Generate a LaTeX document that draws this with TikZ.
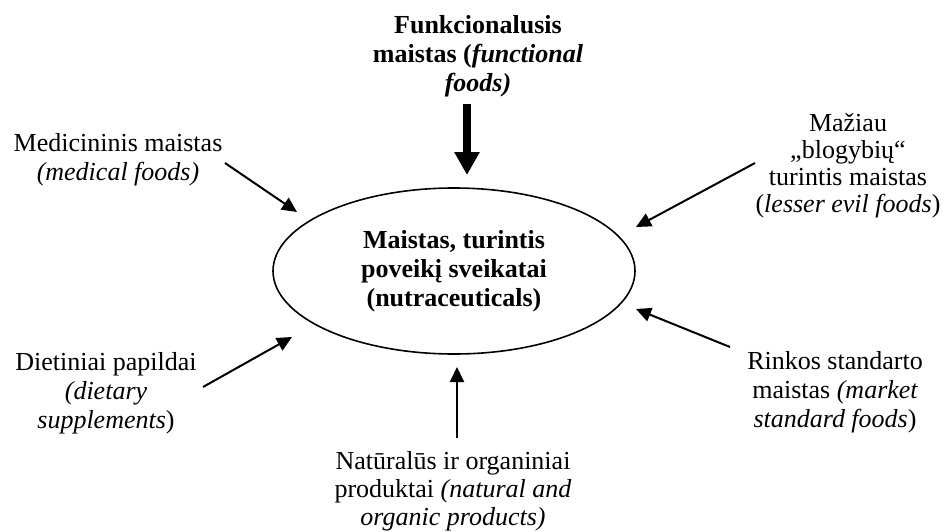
\documentclass[tikz,border=0pt]{standalone}
\usepackage{fontspec}
\setmainfont{Liberation Serif}
\usetikzlibrary{arrows.meta,shapes.geometric}
\begin{document}
\begin{tikzpicture}[x=1pt,y=-1pt,
  lbl/.style={align=center,inner sep=0pt,anchor=north,font=\fontsize{26}{29}\selectfont},
  conn/.style={line width=2pt,-{Triangle[length=15pt,width=14pt]}},
  bigconn/.style={line width=8pt,-{Triangle[length=23pt,width=24pt]}}]
\useasboundingbox (0,0) rectangle (948,531);
\fill[white] (0,0) rectangle (948,531);
% central ellipse
\node[draw,ellipse,line width=1.6pt,minimum width=362pt,minimum height=166pt,inner sep=0pt,
  align=center,font=\fontsize{26}{29}\selectfont\bfseries] (main) at (454,271)
  {Maistas, turintis\\poveikį sveikatai\\(nutraceuticals)};
% labels
\node[lbl] (func) at (478,15) {\bfseries Funkcionalusis\\\bfseries maistas ({\itshape functional}\\{\bfseries\itshape foods)}};
\node[lbl] (med) at (118,133) {Medicininis maistas\\{\itshape (medical foods)}};
\node[lbl,font=\fontsize{26}{27}\selectfont] (maz) at (848,113) {Mažiau\\„blogybių“\\turintis maistas\\({\itshape lesser evil foods})};
\node[lbl] (diet) at (106,352) {Dietiniai papildai\\{\itshape (dietary}\\{\itshape supplements})};
\node[lbl] (rink) at (835,351) {Rinkos standarto\\maistas {\itshape (market}\\{\itshape standard foods})};
\node[lbl,font=\fontsize{26}{28}\selectfont] (nat) at (453,451) {Natūralūs ir organiniai\\produktai {\itshape (natural and}\\{\itshape organic products)}};
% connector ends
\coordinate (funcS) at (467,104);  \coordinate (funcT) at (467,175);
\coordinate (medS) at (225,163);   \coordinate (medT) at (297,212);
\coordinate (mazS) at (755,163);   \coordinate (mazT) at (636,227);
\coordinate (dietS) at (203,387);  \coordinate (dietT) at (292,337);
\coordinate (rinkS) at (730,347);  \coordinate (rinkT) at (636,309);
\coordinate (natS) at (457,438);   \coordinate (natT) at (457,367);
% connectors
\draw[bigconn] (funcS) -- (funcT);
\draw[conn] (medS) -- (medT);
\draw[conn] (mazS) -- (mazT);
\draw[conn] (dietS) -- (dietT);
\draw[conn] (rinkS) -- (rinkT);
\draw[conn] (natS) -- (natT);
\end{tikzpicture}
\end{document}
